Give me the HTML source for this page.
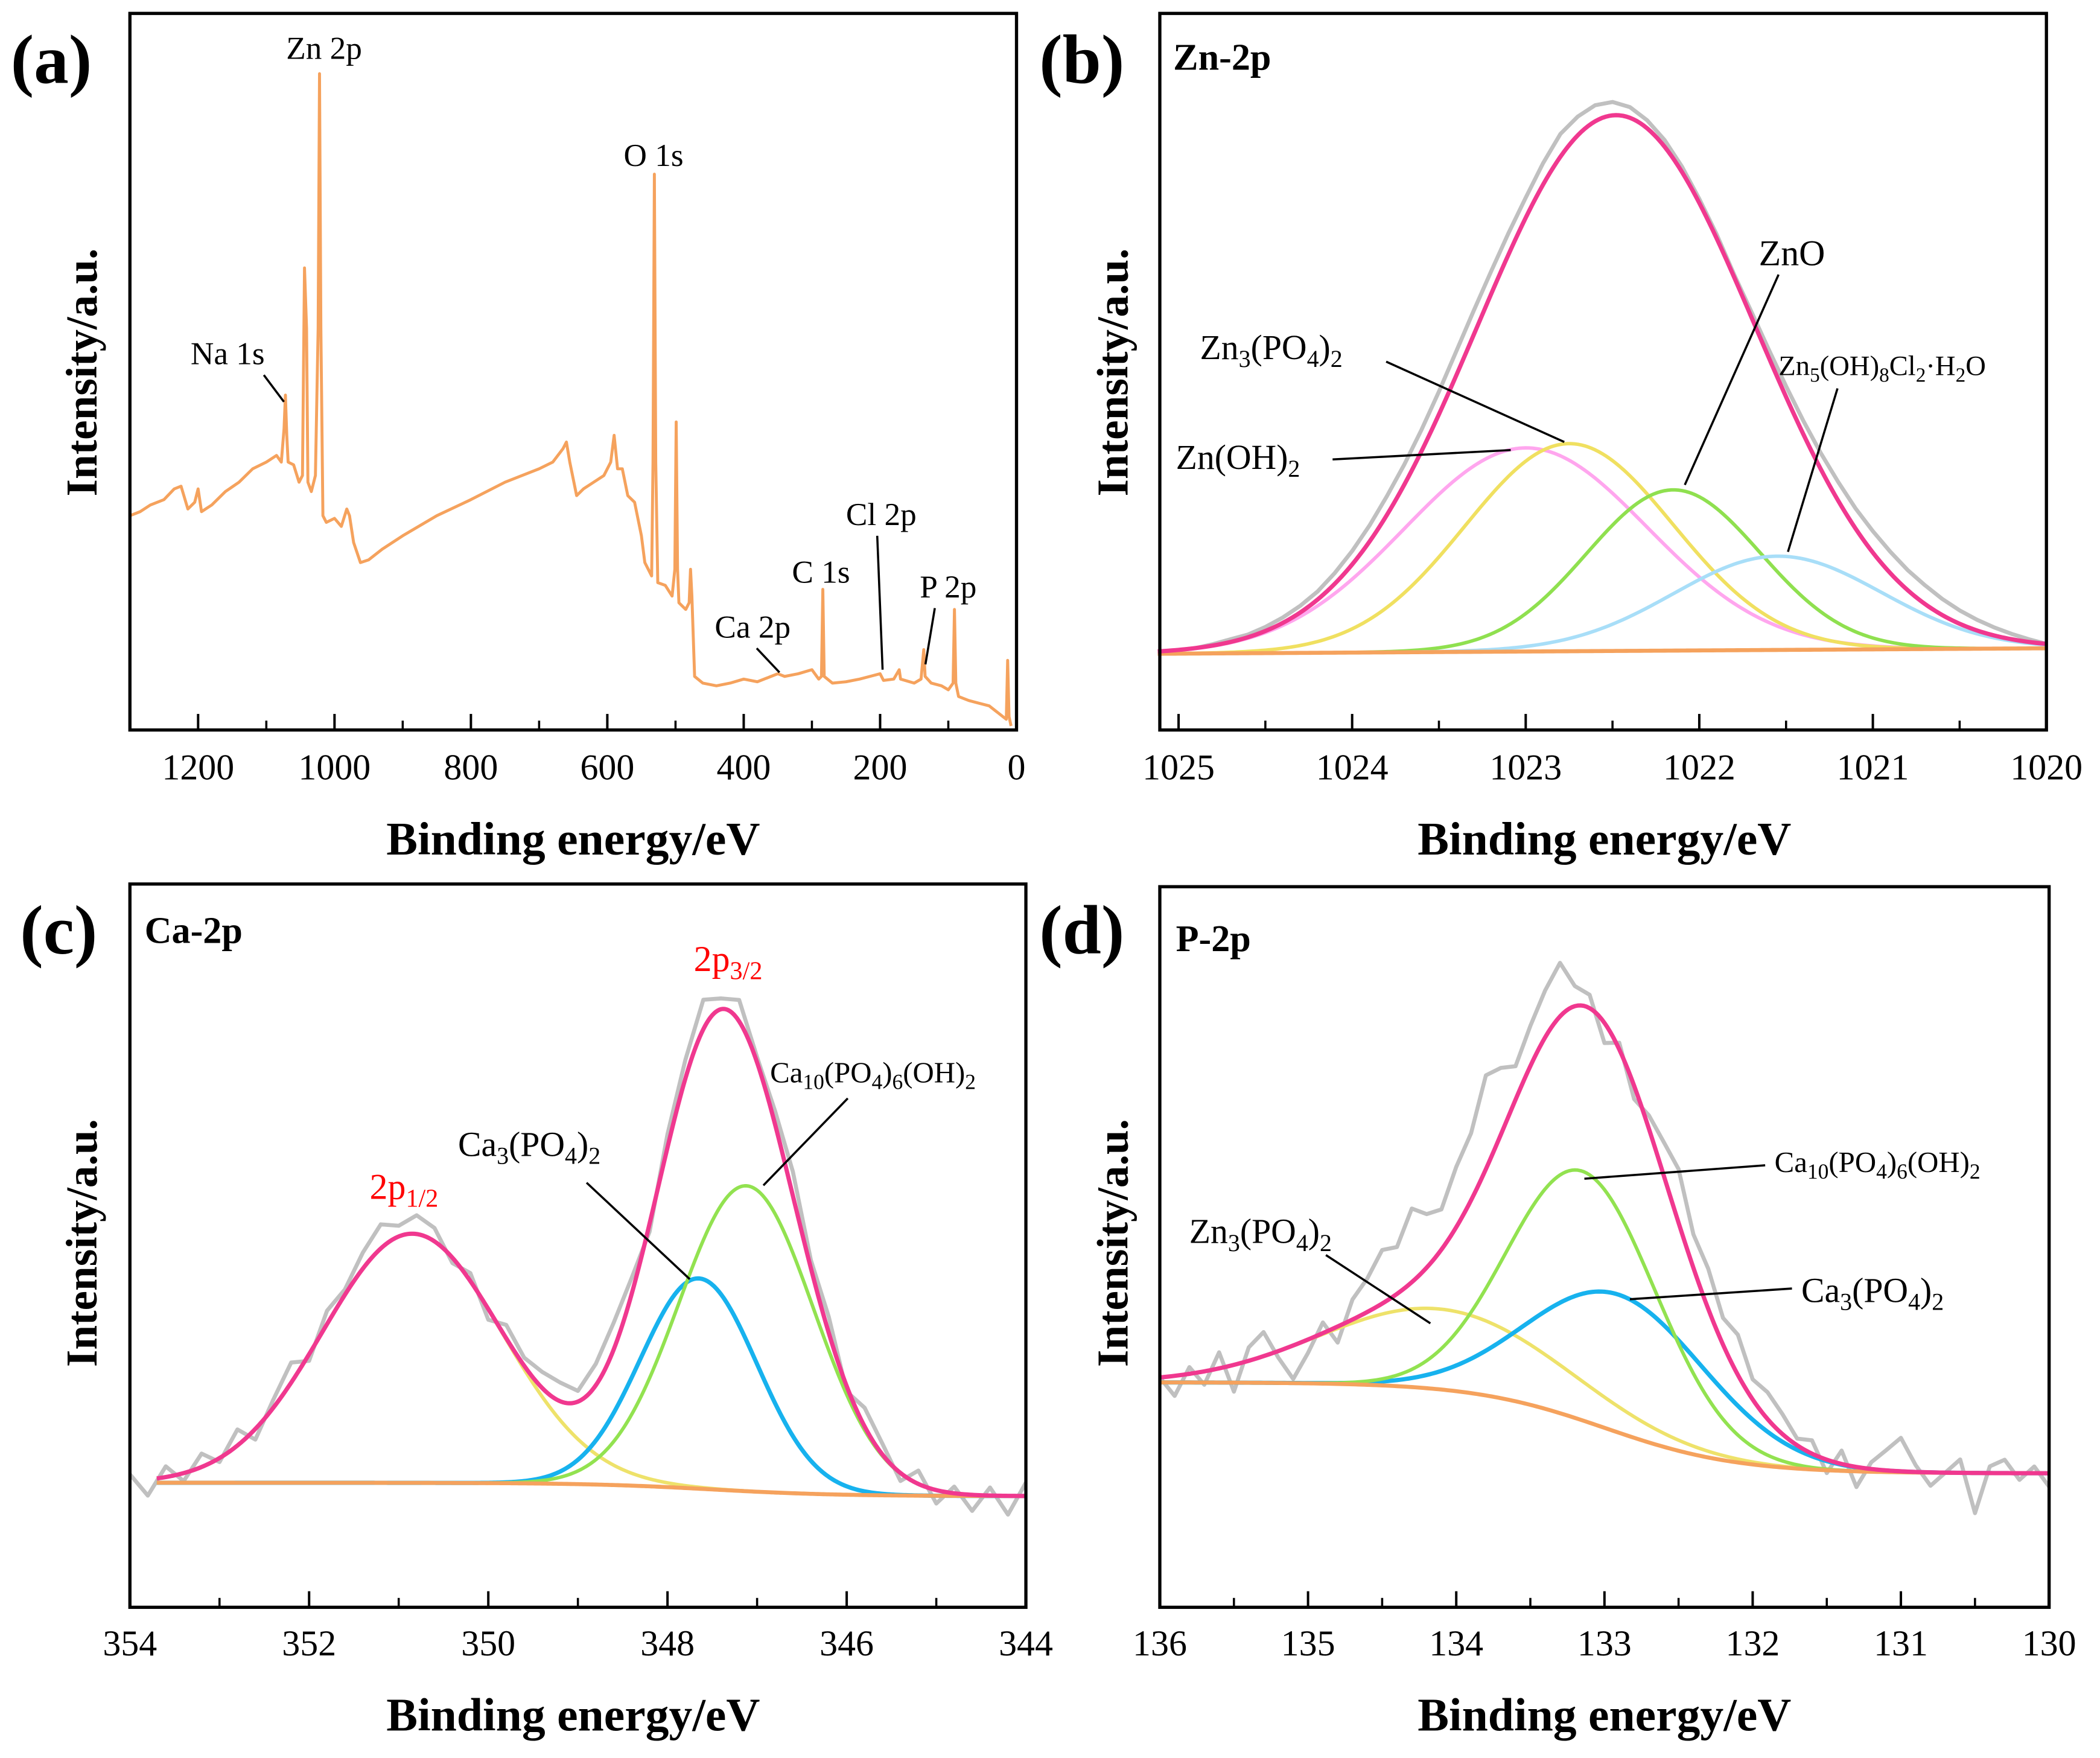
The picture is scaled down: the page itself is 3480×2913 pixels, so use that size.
<!DOCTYPE html>
<html><head><meta charset="utf-8"><style>
html,body{margin:0;padding:0;background:#fff}
svg{display:block}
text{font-family:"Liberation Serif",serif;fill:#000}
</style></head><body>
<svg id="fig" xmlns="http://www.w3.org/2000/svg" width="3480" height="2913" viewBox="0 0 1568 1312.5"></svg>
<script>
// ---------- Panel (a) survey data ----------
const surveyBE=[1300,1285,1270,1250,1235,1225,1215,1205,1200,1195,1180,1160,1140,1120,1100,1085,1078,1074,1072,1070,1068,1060,1052,1047,1044,1041,1039,1034,1028,1024,1022,1020,1017,1012,1000,990,982,978,972,962,950,930,900,850,800,750,700,680,665,660,655,645,635,620,605,595,590,585,578,570,560,550,545,540,535,533,531,529,526,515,505,501,499,497,495,485,480,478,476,472,460,440,420,400,380,360,350,340,320,300,290,286,284,282,270,250,230,215,200,195,180,172,170,150,140,136,134,125,110,100,93,91,89,85,70,55,40,30,20,15,13,11,8];
const surveyI=[160,163,168,172,180,182,165,170,180,163,168,178,185,195,200,205,200,225,250,220,200,198,185,190,345,300,185,178,190,300,490,300,160,155,158,152,165,160,140,125,127,135,145,160,172,185,195,200,210,215,200,175,180,185,190,200,220,195,195,175,170,145,125,120,115,200,415,200,110,108,100,120,230,120,95,90,95,120,100,40,35,33,35,38,36,40,42,40,42,45,38,40,105,40,35,36,38,40,42,37,38,45,38,35,38,60,40,35,33,30,35,90,35,25,22,20,18,14,10,8,52,10,3];
const surveyTicks=[1200,1000,800,600,400,200,0];
// ---------- Panel (b) Zn 2p ----------
const bNames=["Zn(OH)2","Zn3(PO4)2","ZnO","Zn5(OH)8Cl2·H2O"];
const bCenters=[1023.0,1022.75,1022.15,1021.55];
const bHeights=[152,155,120,70];
const bSigmas=[0.7,0.6,0.5,0.6];
const bEnvelope=[1022.48,400,0.8];
const bBaseline=[57,61];
const bResidual=[0,0,1,2,2,3,4,5,6,8,10,12,14,15,16,17,18,18,17,16,15,16,17,14,12,10,8,6,5,4,3,3,2,4,6,8,10,12,14,15,16,16,15,14,12,10,8,6,4,2,0];
const bTicks=[1025,1024,1023,1022,1021,1020];
// ---------- Panel (c) Ca 2p ----------
const cNames=["2p1/2","Ca3(PO4)2","Ca10(PO4)6(OH)2"];
const cCenters=[350.85,347.65,347.12];
const cHeights=[186,157,228];
const cSigmas=[1.0,0.65,0.75];
const cBaseline=[93,83,347.5,0.7];
const cResidual=[5,-12,8,-6,10,-3,12,-8,6,15,-5,10,4,12,18,8,14,10,-4,6,-8,10,6,12,14,8,16,20,12,-6,10,14,22,8,16,4,10,18,6,12,-4,14,8,-6,10,-10,5,-12,6,-14,10];
const cTicks=[354,352,350,348,346,344];
// ---------- Panel (d) P 2p ----------
const dNames=["Zn3(PO4)2","Ca3(PO4)2","Ca10(PO4)6(OH)2"];
const dCenters=[134.11,132.9,133.15];
const dHeights=[60,103,186];
const dSigmas=[0.8,0.6,0.5];
const dBaseline=[168,100,133.0,0.45];
const dResidual=[0,-15,5,-10,12,-20,10,18,-5,-25,-10,8,-12,15,25,40,35,55,40,30,45,50,70,50,25,30,35,40,15,10,-15,5,-10,10,25,40,25,30,20,30,15,20,15,5,10,-10,10,-15,5,15,25,5,-10,0,10,-30,5,10,-5,5,-10];
const dTicks=[136,135,134,133,132,131,130];

const NS="http://www.w3.org/2000/svg";
const svg=document.getElementById('fig');
function el(tag,attrs,parent){const e=document.createElementNS(NS,tag);for(const k in attrs)e.setAttribute(k,attrs[k]);(parent||svg).appendChild(e);return e;}
function lin(d0,d1,r0,r1){return v=>r0+(v-d0)/(d1-d0)*(r1-r0);}
function gauss(x,c,h,s){return h*Math.exp(-(x-c)*(x-c)/(2*s*s));}
function logi(x,p){return p[1]+(p[0]-p[1])/(1+Math.exp(-(x-p[2])/p[3]));}
function path(xs,ys,X,Y,stroke,w,name){
  let d='';for(let i=0;i<xs.length;i++)d+=(i?'L':'M')+X(xs[i]).toFixed(2)+','+Y(ys[i]).toFixed(2);
  const p=el('path',{d:d,fill:'none',stroke:stroke,'stroke-width':w,'stroke-linejoin':'round'});
  
  
  return p;
}
function txt(x,y,s,size,opts,name){
  const t=el('text',Object.assign({x:x,y:y,'font-size':size},opts||{}));
  t.innerHTML=s;
  
  
  return t;
}
function line(x1,y1,x2,y2,name,w){
  const l=el('line',{x1:x1,y1:y1,x2:x2,y2:y2,stroke:'#000','stroke-width':w||1.6});
  
  
  return l;
}
function frame(x0,y0,x1,y1,name){
  const r=el('rect',{x:x0,y:y0,width:x1-x0,height:y1-y0,fill:'none',stroke:'#000','stroke-width':2.4});
  
  
}
function axis(X,ticks,minorStep,dmin,dmax,yb,tickY,titleX,titleY,ytX,ytY,pfx){
  ticks.forEach(v=>{line(X(v),yb,X(v),yb-12,pfx+'-major-tick',1.8);txt(X(v),tickY,String(v),27,{'text-anchor':'middle'},pfx+'-tick-label');});
  for(let v=dmin;v<=dmax+1e-9;v+=minorStep){if(!ticks.some(t=>Math.abs(t-v)<1e-6)){line(X(v),yb,X(v),yb-7,pfx+'-minor-tick',1.6);}}
  txt(titleX,titleY,'Binding energy/eV',35,{'text-anchor':'middle','font-weight':'bold'},pfx+'-x-axis-title');
  txt(0,0,'Intensity/a.u.',33,{'text-anchor':'middle','font-weight':'bold','transform':'translate('+ytX+','+ytY+') rotate(-90)'},pfx+'-y-axis-title');
}

// ===== Panel a =====
{
 const X=lin(1300,0,97,759), Y=lin(0,535,545,10);
 path(surveyBE,surveyI,X,Y,'#f5a25d',2.2,'survey-spectrum');
 frame(97,10,759,545,'panel-a-frame');
 axis(X,surveyTicks,100,0,1300,545,582,428,638,72,278,'panel-a');
 txt(8,62,'(a)',52,{'font-weight':'bold'},'panel-a-label');
 txt(242,44,'Zn 2p',24,{'text-anchor':'middle'},'zn2p-label');
 txt(488,124,'O 1s',24,{'text-anchor':'middle'},'o1s-label');
 txt(170,272,'Na 1s',24,{'text-anchor':'middle'},'na1s-label'); line(197,280,212,300,'na1s-pointer');
 txt(658,392,'Cl 2p',24,{'text-anchor':'middle'},'cl2p-label'); line(655,400,659,500,'cl2p-pointer');
 txt(613,435,'C 1s',24,{'text-anchor':'middle'},'c1s-label');
 txt(562,476,'Ca 2p',24,{'text-anchor':'middle'},'ca2p-label'); line(565,484,582,502,'ca2p-pointer');
 txt(708,446,'P 2p',24,{'text-anchor':'middle'},'p2p-label'); line(698,454,691,496,'p2p-pointer');
}
// ===== Panel b =====
{
 const X=lin(1025,1020,880,1528), Y=lin(0,535,545,10);
 const xs=[];for(let v=1025.12;v>=1019.99;v-=0.02)xs.push(v);
 const base=x=>bBaseline[0]+(1025-x)/5*(bBaseline[1]-bBaseline[0]);
 const env=x=>base(x)+gauss(x,bEnvelope[0],bEnvelope[1],bEnvelope[2]);
 const gx=[],gy=[];for(let i=0;i<bResidual.length;i++){const x=1025-i*0.1;gx.push(x);gy.push(env(x)+bResidual[i]);}
 path(gx,gy,X,Y,'#c0c0c0',3,'zn-raw-data');
 const cols=['#ffa6ee','#f0e060','#8fe04f','#a8def8'];
 const nm=['zn-oh2-component','zn3po42-component','zno-component','zn5-hydroxychloride-component'];
 bCenters.forEach((c,i)=>path(xs,xs.map(x=>base(x)+gauss(x,c,bHeights[i],bSigmas[i])),X,Y,cols[i],2.6,nm[i]));
 path(xs,xs.map(base),X,Y,'#f5a25d',3,'zn-background');
 path(xs,xs.map(env),X,Y,'#f0388f',3.2,'zn-envelope');
 frame(866,10,1528,545,'panel-b-frame');
 axis(X,bTicks,0.5,1020,1025,545,582,1198,638,842,278,'panel-b');
 txt(776,62,'(b)',52,{'font-weight':'bold'},'panel-b-label');
 txt(876,52,'Zn-2p',28,{'font-weight':'bold'},'zn2p-title');
 txt(1338,198,'ZnO',27,{'text-anchor':'middle'},'zno-label'); line(1328,205,1258,362,'zno-pointer');
 txt(896,268,'Zn<tspan font-size="18" dy="6">3</tspan><tspan dy="-6">(PO</tspan><tspan font-size="18" dy="6">4</tspan><tspan dy="-6">)</tspan><tspan font-size="18" dy="6">2</tspan>',26,{},'zn3po42-label'); line(1035,270,1168,330,'zn3po42-pointer');
 txt(878,350,'Zn(OH)<tspan font-size="18" dy="6">2</tspan>',26,{},'zn-oh2-label'); line(995,343,1128,336,'zn-oh2-pointer');
 txt(1328,280,'Zn<tspan font-size="15" dy="5">5</tspan><tspan dy="-5">(OH)</tspan><tspan font-size="15" dy="5">8</tspan><tspan dy="-5">Cl</tspan><tspan font-size="15" dy="5">2</tspan><tspan dy="-5">·H</tspan><tspan font-size="15" dy="5">2</tspan><tspan dy="-5">O</tspan>',21,{},'zn5-label'); line(1372,290,1335,412,'zn5-pointer');
}
// ===== Panel c =====
{
 const X=lin(354,344,97,766), Y=lin(0,540,1200,660);
 const xs=[];for(let v=353.7;v>=344;v-=0.02)xs.push(v);
 const base=x=>logi(x,cBaseline);
 const env=x=>{let s=base(x);cCenters.forEach((c,i)=>s+=gauss(x,c,cHeights[i],cSigmas[i]));return s;};
 const gx=[],gy=[];for(let i=0;i<cResidual.length;i++){const x=354-i*0.2;gx.push(x);gy.push(env(x)+cResidual[i]);}
 path(gx,gy,X,Y,'#c0c0c0',3,'ca-raw-data');
 const cols=['#eee26a','#17b2ee','#92e250'];
 const nm=['ca-2p12-component','ca3po42-component','hydroxyapatite-component'];
 cCenters.forEach((c,i)=>path(xs,xs.map(x=>base(x)+gauss(x,c,cHeights[i],cSigmas[i])),X,Y,cols[i],i==1?3.2:2.6,nm[i]));
 path(xs,xs.map(base),X,Y,'#f5a25d',3,'ca-background');
 path(xs,xs.map(env),X,Y,'#f0388f',3.2,'ca-envelope');
 frame(97,660,766,1200,'panel-c-frame');
 axis(X,cTicks,1,344,354,1200,1236,428,1292,72,928,'panel-c');
 txt(15,712,'(c)',52,{'font-weight':'bold'},'panel-c-label');
 txt(108,704,'Ca-2p',28,{'font-weight':'bold'},'ca2p-title');
 txt(518,725,'2p<tspan font-size="19" dy="6" style="fill:#ff0000">3/2</tspan>',27,{style:'fill:#ff0000'},'2p32-label');
 txt(276,895,'2p<tspan font-size="19" dy="6" style="fill:#ff0000">1/2</tspan>',27,{style:'fill:#ff0000'},'2p12-label');
 txt(342,863,'Ca<tspan font-size="18" dy="6">3</tspan><tspan dy="-6">(PO</tspan><tspan font-size="18" dy="6">4</tspan><tspan dy="-6">)</tspan><tspan font-size="18" dy="6">2</tspan>',26,{},'ca3po42-label'); line(438,883,515,955,'ca3po42-pointer');
 txt(575,808,'Ca<tspan font-size="16" dy="5">10</tspan><tspan dy="-5">(PO</tspan><tspan font-size="16" dy="5">4</tspan><tspan dy="-5">)</tspan><tspan font-size="16" dy="5">6</tspan><tspan dy="-5">(OH)</tspan><tspan font-size="16" dy="5">2</tspan>',22,{},'hydroxyapatite-label'); line(633,820,570,885,'hydroxyapatite-pointer');
}
// ===== Panel d =====
{
 const X=lin(136,130,866,1530), Y=lin(0,538,1200,662);
 const xs=[];for(let v=136;v>=129.99;v-=0.02)xs.push(v);
 const base=x=>logi(x,dBaseline);
 const env=x=>{let s=base(x);dCenters.forEach((c,i)=>s+=gauss(x,c,dHeights[i],dSigmas[i]));return s;};
 const gx=[],gy=[];for(let i=0;i<dResidual.length;i++){const x=136-i*0.1;gx.push(x);gy.push(env(x)+dResidual[i]);}
 path(gx,gy,X,Y,'#c0c0c0',3,'p-raw-data');
 const cols=['#eee26a','#17b2ee','#92e250'];
 const nm=['p-zn3po42-component','p-ca3po42-component','p-hydroxyapatite-component'];
 dCenters.forEach((c,i)=>path(xs,xs.map(x=>base(x)+gauss(x,c,dHeights[i],dSigmas[i])),X,Y,cols[i],i==1?3.2:2.6,nm[i]));
 path(xs,xs.map(base),X,Y,'#f5a25d',3,'p-background');
 path(xs,xs.map(env),X,Y,'#f0388f',3.2,'p-envelope');
 frame(866,662,1530,1200,'panel-d-frame');
 axis(X,dTicks,0.5,130,136,1200,1236,1198,1292,842,928,'panel-d');
 txt(776,712,'(d)',52,{'font-weight':'bold'},'panel-d-label');
 txt(878,710,'P-2p',28,{'font-weight':'bold'},'p2p-title');
 txt(1325,875,'Ca<tspan font-size="16" dy="5">10</tspan><tspan dy="-5">(PO</tspan><tspan font-size="16" dy="5">4</tspan><tspan dy="-5">)</tspan><tspan font-size="16" dy="5">6</tspan><tspan dy="-5">(OH)</tspan><tspan font-size="16" dy="5">2</tspan>',22,{},'p-hydroxyapatite-label'); line(1318,870,1183,880,'p-hydroxyapatite-pointer');
 txt(888,928,'Zn<tspan font-size="18" dy="6">3</tspan><tspan dy="-6">(PO</tspan><tspan font-size="18" dy="6">4</tspan><tspan dy="-6">)</tspan><tspan font-size="18" dy="6">2</tspan>',26,{},'p-zn3po42-label'); line(990,937,1068,988,'p-zn3po42-pointer');
 txt(1345,972,'Ca<tspan font-size="18" dy="6">3</tspan><tspan dy="-6">(PO</tspan><tspan font-size="18" dy="6">4</tspan><tspan dy="-6">)</tspan><tspan font-size="18" dy="6">2</tspan>',26,{},'p-ca3po42-label'); line(1338,962,1217,970,'p-ca3po42-pointer');
}
</script>
</body></html>
